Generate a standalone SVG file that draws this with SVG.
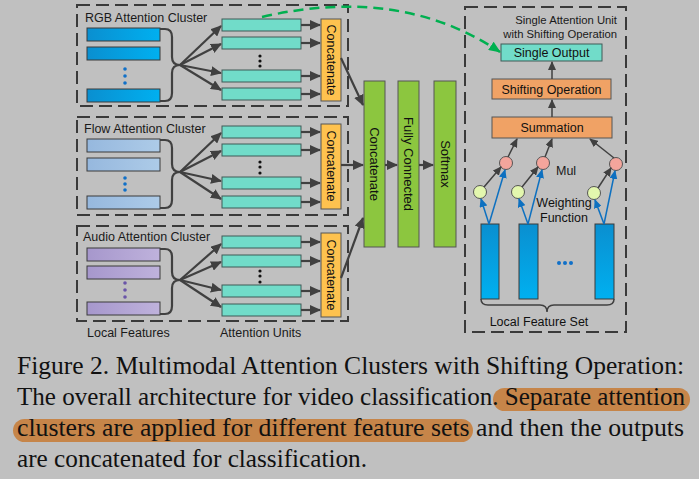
<svg xmlns="http://www.w3.org/2000/svg" width="699" height="479" viewBox="0 0 699 479">
<defs>
<style>
.dash{fill:none;stroke:#3a3a3a;stroke-width:2;stroke-dasharray:13 6}
.lbl{font-family:"Liberation Sans",Arial,sans-serif;font-size:12.5px;fill:#1a1a1a}
.rgb{fill:url(#gRgb);stroke:#3a3a3a;stroke-width:1}
.flow{fill:url(#gFlow);stroke:#3a3a3a;stroke-width:1}
.aud{fill:url(#gAud);stroke:#3a3a3a;stroke-width:1}
.unit{fill:#71dcc9;stroke:#3f5a57;stroke-width:1}
.cat{fill:#fec24f;stroke:#555;stroke-width:1}
.big{fill:#8cc63f;stroke:#555;stroke-width:1}
.ln{fill:none;stroke:#404040;stroke-width:2.2}
.arr{fill:none;stroke:#404040;stroke-width:2.2;marker-end:url(#aD)}
.arrs{fill:none;stroke:#404040;stroke-width:1.5;marker-end:url(#aS)}
.arrb{fill:none;stroke:#0d70c0;stroke-width:1.5;marker-end:url(#aB)}
.vt{font-family:"Liberation Sans",Arial,sans-serif;font-size:12.5px;fill:#111;text-anchor:middle}
.ct{font-family:"Liberation Sans",Arial,sans-serif;font-size:12.5px;fill:#111;text-anchor:middle}
.cap{font-family:"Liberation Serif","Times New Roman",serif;font-size:25px;fill:#111}
.bdot{fill:#1070c8}
.pdot{fill:#6a55a8}
.kdot{fill:#111}
.orange{fill:#f0a265;stroke:#555;stroke-width:1}
.red{fill:#f4a59c;stroke:#555;stroke-width:1}
.grn{fill:#e3f7ae;stroke:#555;stroke-width:1}
.fset{fill:url(#gSet);stroke:#3a3a3a;stroke-width:1}
</style>
<linearGradient id="gRgb" x1="0" y1="0" x2="1" y2="0"><stop offset="0" stop-color="#0a8fd0"/><stop offset="1" stop-color="#00b0f0"/></linearGradient>
<linearGradient id="gFlow" x1="0" y1="0" x2="1" y2="0"><stop offset="0" stop-color="#96b8de"/><stop offset="1" stop-color="#adcbe8"/></linearGradient>
<linearGradient id="gAud" x1="0" y1="0" x2="1" y2="0"><stop offset="0" stop-color="#a697cc"/><stop offset="1" stop-color="#bfb2dc"/></linearGradient>
<linearGradient id="gSet" x1="0" y1="0" x2="0" y2="1"><stop offset="0" stop-color="#0a8fd0"/><stop offset="1" stop-color="#00b0f0"/></linearGradient>
<marker id="aD" markerUnits="userSpaceOnUse" markerWidth="11" markerHeight="10" refX="10" refY="5" orient="auto"><path d="M0,0 L11,5 L0,10 z" fill="#404040"/></marker>
<marker id="aS" markerUnits="userSpaceOnUse" markerWidth="9" markerHeight="8" refX="8" refY="4" orient="auto"><path d="M0,0 L9,4 L0,8 z" fill="#404040"/></marker>
<marker id="aB" markerUnits="userSpaceOnUse" markerWidth="9" markerHeight="8" refX="8" refY="4" orient="auto"><path d="M0,0 L9,4 L0,8 z" fill="#0d70c0"/></marker>
<marker id="aG" markerUnits="userSpaceOnUse" markerWidth="12" markerHeight="10" refX="11" refY="5" orient="auto"><path d="M0,0 L12,5 L0,10 z" fill="#00b050"/></marker>
</defs>
<rect width="699" height="479" fill="#c0c0c0"/>

<g id="rgb-cluster">
<rect class="dash" x="77" y="5" width="271" height="101"/>
<text class="lbl" x="85" y="22">RGB Attention Cluster</text>
<rect class="rgb" x="87" y="28" width="73" height="13"/>
<rect class="rgb" x="87" y="47" width="73" height="13"/>
<rect class="rgb" x="87" y="89" width="73" height="13"/>
<circle class="bdot" cx="125" cy="69" r="1.8"/><circle class="bdot" cx="125" cy="76" r="1.8"/><circle class="bdot" cx="125" cy="83" r="1.8"/>
<path class="ln" d="M160,29 H165 Q172,29 172,37 V57 Q172,65 180,65 Q172,65 172,73 V93 Q172,101 165,101 H160"/>
<path class="arr" d="M180,65 L221,26"/><path class="arr" d="M180,65 L221,44"/><path class="arr" d="M180,65 L221,73"/><path class="arr" d="M180,65 L221,90"/>
<rect class="unit" x="222" y="19" width="79" height="12"/>
<rect class="unit" x="222" y="37" width="79" height="12"/>
<rect class="unit" x="222" y="70" width="79" height="12"/>
<rect class="unit" x="222" y="88" width="79" height="12"/>
<circle class="kdot" cx="260" cy="56" r="1.6"/><circle class="kdot" cx="260" cy="61" r="1.6"/><circle class="kdot" cx="260" cy="66" r="1.6"/>
<path class="arr" d="M301,25 H320"/><path class="arr" d="M301,43 H320"/><path class="arr" d="M301,76 H320"/><path class="arr" d="M301,94 H320"/>
<rect class="cat" x="321" y="19" width="20" height="82"/>
<text class="vt" transform="translate(331,60) rotate(90)" y="4.5">Concatenate</text>
</g>

<g id="flow-cluster">
<rect class="dash" x="77" y="117" width="271" height="98"/>
<text class="lbl" x="84" y="133">Flow Attention Cluster</text>
<rect class="flow" x="87" y="139" width="73" height="13"/>
<rect class="flow" x="87" y="158" width="73" height="13"/>
<rect class="flow" x="87" y="196" width="73" height="13"/>
<circle class="bdot" cx="125" cy="178" r="1.8"/><circle class="bdot" cx="125" cy="184" r="1.8"/><circle class="bdot" cx="125" cy="190" r="1.8"/>
<path class="ln" d="M160,140 H165 Q172,140 172,148 V164 Q172,172 180,172 Q172,172 172,180 V200 Q172,208 165,208 H160"/>
<path class="arr" d="M180,172 L221,133"/><path class="arr" d="M180,172 L221,151"/><path class="arr" d="M180,172 L221,181"/><path class="arr" d="M180,172 L221,199"/>
<rect class="unit" x="222" y="126" width="79" height="12"/>
<rect class="unit" x="222" y="144" width="79" height="12"/>
<rect class="unit" x="222" y="177" width="79" height="12"/>
<rect class="unit" x="222" y="196" width="79" height="12"/>
<circle class="kdot" cx="260" cy="162" r="1.6"/><circle class="kdot" cx="260" cy="167" r="1.6"/><circle class="kdot" cx="260" cy="173" r="1.6"/>
<path class="arr" d="M301,132 H320"/><path class="arr" d="M301,150 H320"/><path class="arr" d="M301,183 H320"/><path class="arr" d="M301,202 H320"/>
<rect class="cat" x="321" y="124" width="20" height="85"/>
<text class="vt" transform="translate(331,166) rotate(90)" y="4.5">Concatenate</text>
</g>

<g id="audio-cluster">
<rect class="dash" x="77" y="226" width="271" height="95"/>
<text class="lbl" x="83" y="241">Audio Attention Cluster</text>
<rect class="aud" x="87" y="248" width="73" height="13"/>
<rect class="aud" x="87" y="266" width="73" height="13"/>
<rect class="aud" x="87" y="302" width="73" height="13"/>
<circle class="pdot" cx="125" cy="283" r="1.8"/><circle class="pdot" cx="125" cy="290" r="1.8"/><circle class="pdot" cx="125" cy="297" r="1.8"/>
<path class="ln" d="M160,249 H165 Q172,249 172,257 V272 Q172,280 180,280 Q172,280 172,288 V306 Q172,314 165,314 H160"/>
<path class="arr" d="M180,280 L221,244"/><path class="arr" d="M180,280 L221,262"/><path class="arr" d="M180,280 L221,290"/><path class="arr" d="M180,280 L221,307"/>
<rect class="unit" x="222" y="236" width="79" height="12"/>
<rect class="unit" x="222" y="255" width="79" height="12"/>
<rect class="unit" x="222" y="285" width="79" height="12"/>
<rect class="unit" x="222" y="304" width="79" height="12"/>
<circle class="kdot" cx="260" cy="271" r="1.6"/><circle class="kdot" cx="260" cy="276" r="1.6"/><circle class="kdot" cx="260" cy="282" r="1.6"/>
<path class="arr" d="M301,242 H320"/><path class="arr" d="M301,261 H320"/><path class="arr" d="M301,291 H320"/><path class="arr" d="M301,310 H320"/>
<rect class="cat" x="321" y="233" width="20" height="84"/>
<text class="vt" transform="translate(331,275) rotate(90)" y="4.5">Concatenate</text>
</g>

<g id="bottom-labels">
<text class="lbl" x="87" y="337">Local Features</text>
<text class="lbl" x="220" y="337">Attention Units</text>
</g>

<g id="concatenate">
<rect class="big" x="364" y="81" width="21" height="166"/>
<text class="vt" transform="translate(374.5,164) rotate(90)" y="4.5" style="font-size:13px">Concatenate</text>
</g>
<g id="fully-connected">
<rect class="big" x="398" y="81" width="21" height="166"/>
<text class="vt" transform="translate(408.5,164) rotate(90)" y="4.5" style="font-size:13px">Fully Connected</text>
</g>
<g id="softmax">
<rect class="big" x="434" y="81" width="22" height="166"/>
<text class="vt" transform="translate(445,164) rotate(90)" y="4.5" style="font-size:13px">Softmax</text>
</g>

<g id="attention-unit-detail">
<rect class="dash" x="465" y="7" width="161" height="325"/>
<text class="lbl" x="617" y="24" text-anchor="end" style="font-size:11.3px">Single Attention Unit</text>
<text class="lbl" x="617" y="38" text-anchor="end" style="font-size:11.3px">with Shifting Operation</text>
<g id="single-output"><rect class="unit" x="501" y="44" width="101" height="17"/><text class="ct" x="551.5" y="57">Single Output</text></g>
<g id="shifting-operation"><rect class="orange" x="492" y="79" width="119" height="20"/><text class="ct" x="551.5" y="93.5">Shifting Operation</text></g>
<g id="summation"><rect class="orange" x="492" y="117" width="120" height="21"/><text class="ct" x="552" y="132">Summation</text></g>
<g id="mul-nodes">
<circle class="red" cx="506" cy="163" r="6.5"/><circle class="red" cx="543" cy="163" r="6.5"/><circle class="red" cx="616" cy="164" r="6.5"/>
<text class="lbl" x="556" y="175">Mul</text>
</g>
<g id="weighting-nodes">
<circle class="grn" cx="480" cy="192" r="6.5"/><circle class="grn" cx="518" cy="192" r="6.5"/><circle class="grn" cx="594" cy="193" r="6.5"/>
<text class="ct" x="564" y="207">Weighting</text>
<text class="ct" x="564" y="222">Function</text>
</g>
<g id="local-feature-set">
<rect class="fset" x="481" y="224" width="18" height="75"/>
<rect class="fset" x="519" y="224" width="19" height="75"/>
<rect class="fset" x="595" y="224" width="19" height="75"/>
<circle class="bdot" cx="559" cy="263" r="2"/><circle class="bdot" cx="565" cy="263" r="2"/><circle class="bdot" cx="571" cy="263" r="2"/>
<path d="M481,299 Q481,305 488,305 H540 Q547,305 547,312 Q547,305 554,305 H607 Q614,305 614,299" fill="none" stroke="#404040" stroke-width="1.5"/>
<text class="ct" x="539" y="326">Local Feature Set</text>
</g>
</g>

<g id="connectors">
<path class="arr" d="M341,58 L363,105"/>
<path class="arr" d="M341,165 H363"/>
<path class="arr" d="M341,278 L363,218"/>
<path class="arr" d="M385,165 H397"/>
<path class="arr" d="M419,165 H433"/>
<path d="M262,17 Q400,-15 500,52" fill="none" stroke="#00b050" stroke-width="2.5" stroke-dasharray="10 6" marker-end="url(#aG)"/>
<path class="arrs" d="M552,79 V62"/>
<path class="arrs" d="M552,117 V100"/>
<path class="arrs" d="M508,157 L517,139"/>
<path class="arrs" d="M545,157 L552,139"/>
<path class="arrs" d="M614,158 L590,139"/>
<path class="arrs" d="M484,187 L501,167"/>
<path class="arrs" d="M522,187 L538,167"/>
<path class="arrs" d="M598,188 L611,168"/>
<path class="arrb" d="M489,224 L481,199"/>
<path class="arrb" d="M489,224 L505,170"/>
<path class="arrb" d="M528,224 L519,199"/>
<path class="arrb" d="M528,224 L542,170"/>
<path class="arrb" d="M604,224 L595,200"/>
<path class="arrb" d="M604,224 L615,171"/>
</g>

<g id="caption">
<rect x="493" y="388" width="197" height="23" rx="11.5" fill="#c68549"/>
<rect x="13" y="419" width="460" height="23" rx="11.5" fill="#c68549"/>
<text class="cap" x="17" y="374" textLength="667" lengthAdjust="spacingAndGlyphs">Figure 2. Multimodal Attention Clusters with Shifting Operation:</text>
<text class="cap" x="17" y="405" textLength="668" lengthAdjust="spacingAndGlyphs">The overall architecture for video classification. Separate attention</text>
<text class="cap" x="17" y="436" textLength="667" lengthAdjust="spacingAndGlyphs">clusters are applied for different feature sets and then the outputs</text>
<text class="cap" x="17" y="467" textLength="350" lengthAdjust="spacingAndGlyphs">are concatenated for classification.</text>
</g>
</svg>
